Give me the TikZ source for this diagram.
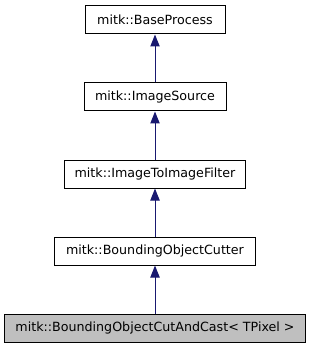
\documentclass[tikz,border=0pt]{standalone}
\usepackage{fontspec}
\setmainfont{DejaVu Sans}
\usetikzlibrary{positioning,arrows.meta}
\definecolor{edgeblue}{RGB}{25,25,112}
\definecolor{leafgray}{RGB}{191,191,191}

\begin{document}
\begin{tikzpicture}[x=0.75pt,y=-0.75pt,
    cls/.style={draw=black, line width=0.75pt, minimum height=21pt, inner sep=0pt,
      font=\fontsize{9.5}{11}\selectfont},
    inherit/.style={edgeblue, line width=0.75pt, -{Triangle[length=9pt,width=7pt]}},
    node distance=36pt]
    \useasboundingbox (0,0) rectangle (309,349);
    % Klasės nuo bazinės žemyn
    \node[cls, minimum width=105pt] (base) at (155,20) {mitk::BaseProcess};
    \node[cls, minimum width=106.5pt, below=of base] (source) {mitk::ImageSource};
    \node[cls, minimum width=135.75pt, below=of source] (filter) {mitk::ImageToImageFilter};
    \node[cls, minimum width=150.75pt, below=of filter] (cutter) {mitk::BoundingObjectCutter};
    \node[cls, minimum width=225.75pt, fill=leafgray, below=of cutter] (cast) {mitk::BoundingObjectCutAndCast< TPixel >};
    % Paveldėjimo rodyklės
    \draw[inherit] (source) -- (base);
    \draw[inherit] (filter) -- (source);
    \draw[inherit] (cutter) -- (filter);
    \draw[inherit] (cast) -- (cutter);
\end{tikzpicture}
\end{document}
